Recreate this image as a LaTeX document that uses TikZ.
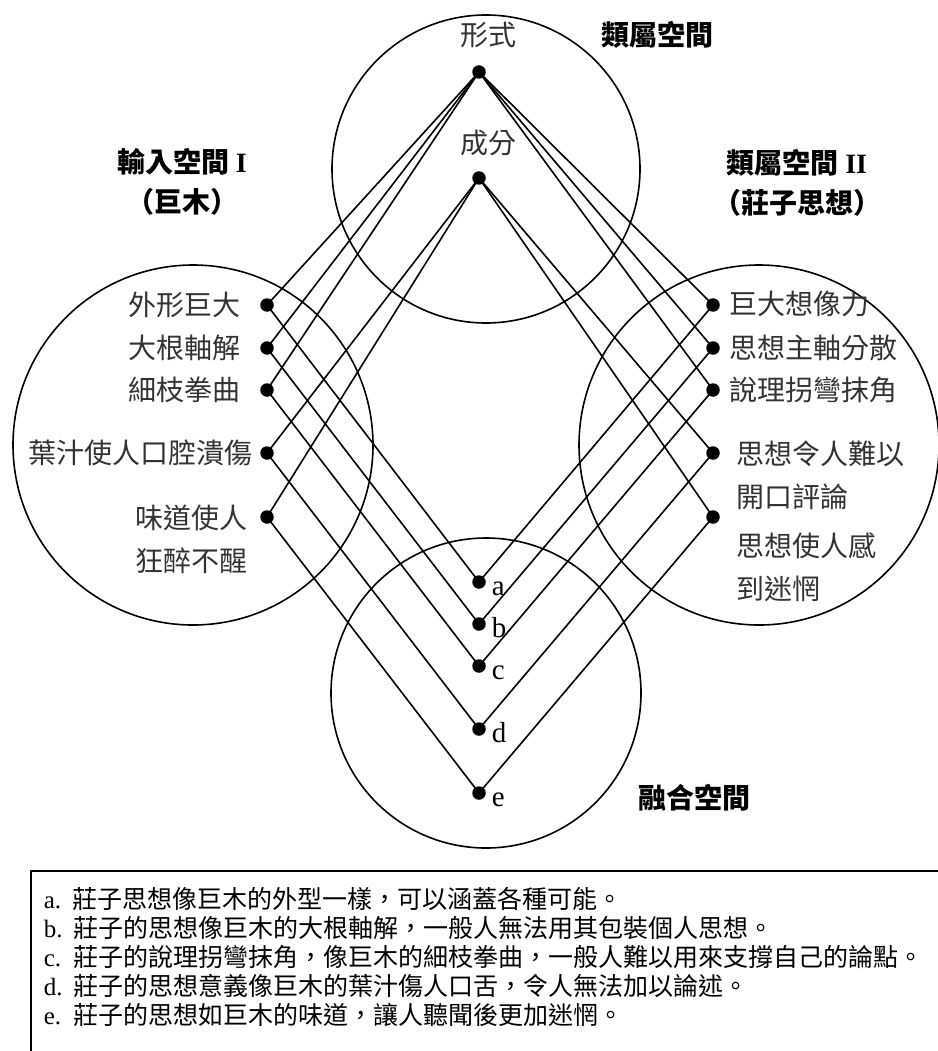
\documentclass[tikz,border=0pt]{standalone}
\usepackage{fontspec}
\setmainfont{Liberation Serif}
\newfontfamily\cjk{Noto Sans CJK TC}
\begin{document}
\begin{tikzpicture}[x=1pt, y=-1pt, line width=1.6pt, line join=round, line cap=round,
  dot/.style={circle, fill, inner sep=0pt, minimum size=13.5pt},
  lbl/.style={font=\cjk\fontsize{28}{43}\selectfont, text=black!80, inner sep=0pt},
  ttl/.style={font=\cjk\bfseries\fontsize{28}{40}\selectfont, align=center, inner sep=0pt},
  sub/.style={font=\fontsize{29}{30}\selectfont, inner sep=0pt, anchor=base west},
  note/.style={font=\fontsize{25}{29}\selectfont, inner sep=0pt, anchor=west}]
 \useasboundingbox (0,0) rectangle (937,1051);
 % the four spaces
 \draw (486,169) circle (154pt) (193,445) circle (180pt) (759,445) circle (180pt) (486,693) circle (155pt);
 \node[ttl] (gen) at (657,35) {類屬空間};
 \node[ttl] (inp) at (182,182) {輸入空間 {\rmfamily I}\\（巨木）};
 \node[ttl] (inq) at (797,183) {類屬空間 {\rmfamily II}\\（莊子思想）};
 \node[ttl] (bld) at (694,798) {融合空間};
 % generic space
 \node[lbl] (xst) at (488,35) {形式};
 \node[lbl] (cft) at (488,143) {成分};
 \node[dot] (xs) at (479,72) {};
 \node[dot] (cf) at (479,178) {};
 % input spaces
 \foreach \n/\y in {1/305,2/348,3/390,4/453,5/517} {
   \node[dot] (l\n) at (267,\y) {};
   \node[dot] (r\n) at (713,\y) {};
 }
 \node[lbl, anchor=east] at (241,305) {外形巨大};
 \node[lbl, anchor=east] at (241,348) {大根軸解};
 \node[lbl, anchor=east] at (241,390) {細枝拳曲};
 \node[lbl, anchor=east] at (253,453) {葉汁使人口腔潰傷};
 \node[lbl, anchor=north east, align=right] at (248,504) {味道使人\\狂醉不醒};
 \node[lbl, anchor=west] at (729,304) {巨大想像力};
 \node[lbl, anchor=west] at (729,348) {思想主軸分散};
 \node[lbl, anchor=west] at (729,390) {說理拐彎抹角};
 \node[lbl, anchor=north west, align=left] at (736,440) {思想令人難以\\開口評論};
 \node[lbl, anchor=north west, align=left] at (736,532) {思想使人感\\到迷惘};
 % blend
 \foreach \m/\y in {a/582,b/624,c/666,d/729,e/793} {
   \node[dot] (\m) at (479,\y) {};
   \node[sub] at (491,\y+13) {\m};
 }
 \foreach \n in {1,2,3} \draw (xs.center) -- (l\n.center) (xs.center) -- (r\n.center);
 \foreach \n in {4,5} \draw (cf.center) -- (l\n.center) (cf.center) -- (r\n.center);
 \foreach \n/\m in {1/a,2/b,3/c,4/d,5/e} \draw (l\n.center) -- (\m.center) -- (r\n.center);
 % notes
 \draw[line width=1.4pt] (31,871) rectangle (960,1070);
 \node[note] (na) at (43,899) {a.\hspace{11pt}{\cjk 莊子思想像巨木的外型一樣，可以涵蓋各種可能。}};
 \node[note] (nb) at (43,928) {b.\hspace{11pt}{\cjk 莊子的思想像巨木的大根軸解，一般人無法用其包裝個人思想。}};
 \node[note] (nc) at (43,957) {c.\hspace{12pt}{\cjk 莊子的說理拐彎抹角，像巨木的細枝拳曲，一般人難以用來支撐自己的論點。}};
 \node[note] (nd) at (43,986) {d.\hspace{11pt}{\cjk 莊子的思想意義像巨木的葉汁傷人口舌，令人無法加以論述。}};
 \node[note] (ne) at (43,1015) {e.\hspace{12pt}{\cjk 莊子的思想如巨木的味道，讓人聽聞後更加迷惘。}};
\end{tikzpicture}
\end{document}
